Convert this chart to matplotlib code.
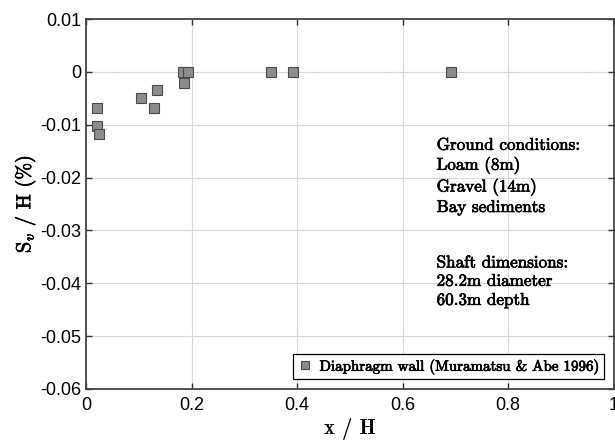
import matplotlib
matplotlib.use("Agg")
import matplotlib.pyplot as plt
import matplotlib.patheffects as pe

x_vals = [0.020, 0.0215, 0.0246, 0.104, 0.128, 0.134, 0.184, 0.194, 0.185, 0.350, 0.393, 0.691]
y_vals = [-0.0068, -0.0102, -0.0118, -0.0049, -0.0068, -0.0034, 0.0, 0.0, -0.0020, 0.0, 0.0, 0.0]
series_label = "Diaphragm wall (Muramatsu & Abe 1996)"
x_ticks = [0, 0.2, 0.4, 0.6, 0.8, 1]
x_ticklabels = ["0", "0.2", "0.4", "0.6", "0.8", "1"]
y_ticks = [0.01, 0, -0.01, -0.02, -0.03, -0.04, -0.05, -0.06]
y_ticklabels = ["0.01", "0", "-0.01", "-0.02", "-0.03", "-0.04", "-0.05", "-0.06"]
ground_lines = ["Ground conditions:", "Loam (8m)", "Gravel (14m)", "Bay sediments"]
shaft_lines = ["Shaft dimensions:", "28.2m diameter", "60.3m depth"]

plt.rcParams['mathtext.fontset'] = 'cm'
serif = ['cmr10', 'DejaVu Serif']
tickfont = 'Liberation Sans'
thick = [pe.withStroke(linewidth=0.5, foreground='black')]

fig = plt.figure(figsize=(6.15, 4.44), dpi=100)
ax = fig.add_axes([0.1398, 0.1239, 0.858, 0.833])

ax.grid(True, color='#d8d8d8', linewidth=0.8)
ax.axhline(0, color='#c8c8c8', linestyle=(0, (3, 2)), linewidth=0.8, zorder=1)
ax.plot(x_vals, y_vals, linestyle='none', marker='s', markersize=7,
        markerfacecolor='#8c8c8c', markeredgecolor='#4a4a4a', markeredgewidth=0.8,
        label=series_label, zorder=3)

ax.set_xlim(0, 1)
ax.set_ylim(-0.06, 0.01)
ax.set_xticks(x_ticks)
ax.set_xticklabels(x_ticklabels, fontfamily=tickfont, fontsize=13)
ax.set_yticks(y_ticks)
ax.set_yticklabels(y_ticklabels, fontfamily=tickfont, fontsize=13)
ax.tick_params(direction='in', top=True, right=True, length=4, width=1, color='#333333')
ax.tick_params(axis='x', pad=6)
ax.tick_params(axis='y', pad=3.5)
for s in ax.spines.values():
    s.set_color('#444444')
    s.set_linewidth(1.3)

xl = ax.set_xlabel("x / H", fontfamily=['cmb10', 'DejaVu Serif'], fontsize=15, labelpad=3)
yl = ax.set_ylabel(r"S$_v$ / H (%)", fontfamily=serif, fontsize=14.5, labelpad=2)
yl.set_path_effects(thick)

t1 = ax.text(0.6645, 0.680, "\n".join(ground_lines), transform=ax.transAxes, fontfamily=serif,
             fontsize=12.3, va='top', ha='left', linespacing=1.22)
t2 = ax.text(0.6645, 0.362, "\n".join(shaft_lines), transform=ax.transAxes, fontfamily=serif,
             fontsize=12.3, va='top', ha='left', linespacing=1.25)
t1.set_path_effects(thick)
t2.set_path_effects(thick)

leg = ax.legend(loc='lower right', prop={'family': serif, 'size': 10.8}, fancybox=False,
                framealpha=1, edgecolor='black', borderpad=0.3, handletextpad=0.5,
                handlelength=1.0, borderaxespad=0.65, markerscale=0.85)
leg.get_frame().set_linewidth(0.9)
for t in leg.get_texts():
    t.set_path_effects(thick)

fig.savefig("out.png", dpi=100)
